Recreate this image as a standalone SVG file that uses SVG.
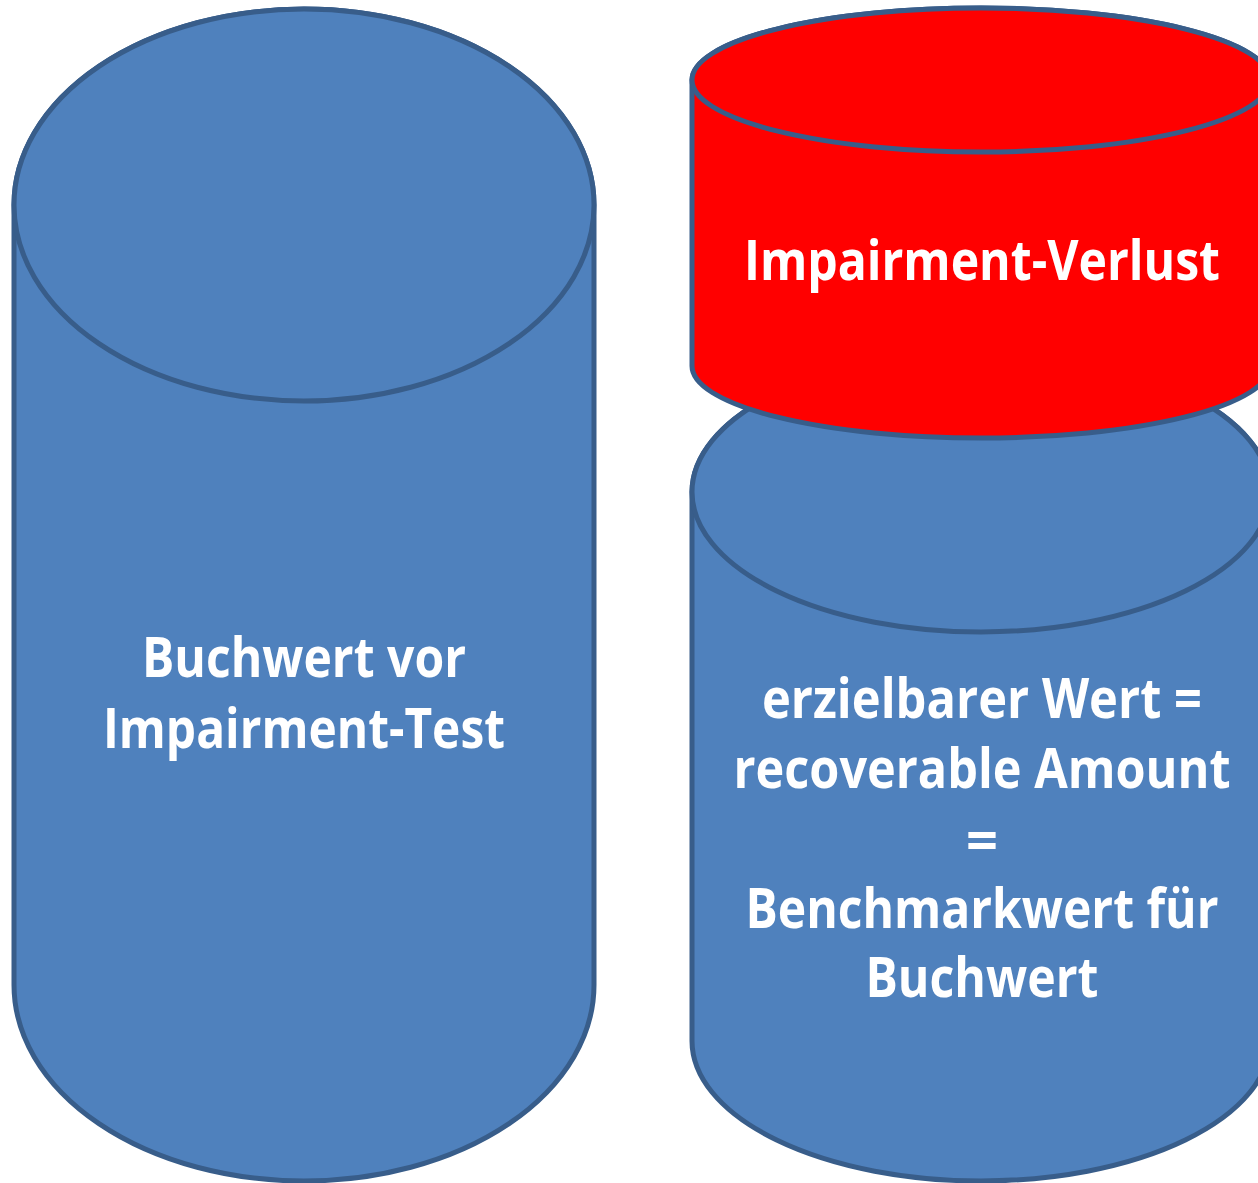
<svg xmlns="http://www.w3.org/2000/svg" width="1258" height="1183" viewBox="0 0 1258 1183">
<style>
.body{stroke:#385D8A;stroke-width:5;stroke-linejoin:round}
.blue{fill:#4F81BD}
.red{fill:#FF0000}
.lbl{font-family:"Open Sans","Noto Sans","Liberation Sans",sans-serif;font-weight:bold;font-size:56px;fill:#FFFFFF;text-anchor:middle}
</style>
<rect width="1258" height="1183" fill="#FFFFFF"/>
<g id="cyl-buchwert">
<path class="body blue" d="M14,205 L14,985 A290,196 0 0 0 594,985 L594,205 A290,196 0 0 0 14,205 Z"/>
<ellipse class="body blue" cx="304" cy="205" rx="290" ry="196"/>
<text class="lbl" x="304" y="677" textLength="324" lengthAdjust="spacingAndGlyphs">Buchwert vor</text>
<text class="lbl" x="304" y="748" textLength="402" lengthAdjust="spacingAndGlyphs">Impairment-Test</text>
</g>
<g id="cyl-erzielbar">
<path class="body blue" d="M692,492 L692,1041 A289,140 0 0 0 1270,1041 L1270,492 A289,140 0 0 0 692,492 Z"/>
<ellipse class="body blue" cx="981" cy="492" rx="289" ry="140"/>
<text class="lbl" x="982" y="718" textLength="440" lengthAdjust="spacingAndGlyphs">erzielbarer Wert =</text>
<text class="lbl" x="982" y="788" textLength="497" lengthAdjust="spacingAndGlyphs">recoverable Amount</text>
<text class="lbl" x="982" y="860">=</text>
<text class="lbl" x="982" y="928" textLength="473" lengthAdjust="spacingAndGlyphs">Benchmarkwert für</text>
<text class="lbl" x="982" y="997" textLength="233" lengthAdjust="spacingAndGlyphs">Buchwert</text>
</g>
<g id="cyl-verlust">
<path class="body red" d="M692,80 L692,366 A289,72 0 0 0 1270,366 L1270,80 A289,72 0 0 0 692,80 Z"/>
<ellipse class="body red" cx="981" cy="80" rx="289" ry="72"/>
<text class="lbl" x="982" y="280" textLength="476" lengthAdjust="spacingAndGlyphs">Impairment-Verlust</text>
</g>
<g id="connectors"/>
</svg>
